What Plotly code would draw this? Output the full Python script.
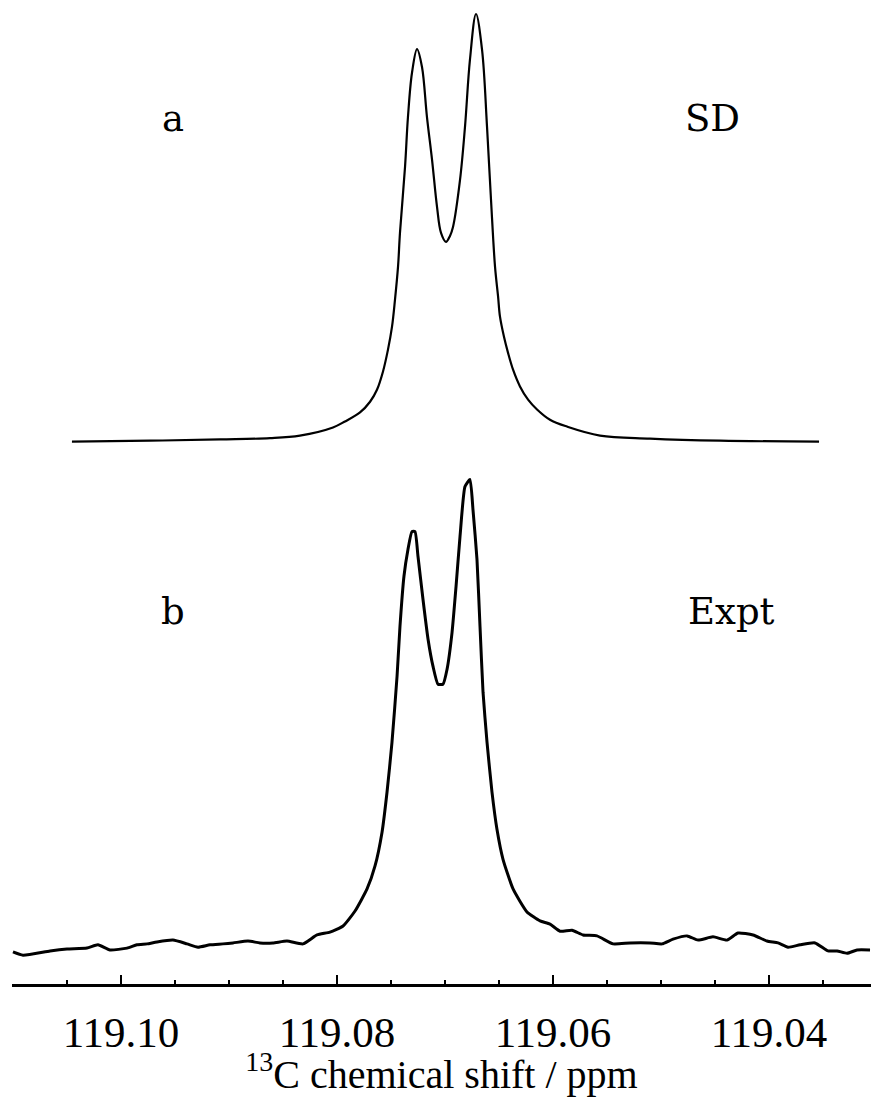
import plotly.graph_objects as go

# --- Simulated spectrum (SD): chemical shift (ppm) and normalised intensity ---
sd_ppm = [119.10454, 119.09731, 119.09083, 119.08620, 119.08343, 119.08037,
          119.07926, 119.07787, 119.07694, 119.07630, 119.07574, 119.07528,
          119.07491, 119.07463, 119.07435, 119.07417, 119.07370, 119.07343,
          119.07306, 119.07259, 119.07213, 119.07167, 119.07120, 119.07074,
          119.07037, 119.06991, 119.06954, 119.06926, 119.06861, 119.06815,
          119.06769, 119.06713, 119.06657, 119.06611, 119.06574, 119.06537,
          119.06509, 119.06491, 119.06454, 119.06417, 119.06370, 119.06306,
          119.06231, 119.06148, 119.06028, 119.05870, 119.05565, 119.05102,
          119.04454, 119.03537]
sd_int = [0.000, 0.002, 0.005, 0.008, 0.014, 0.033,
          0.047, 0.068, 0.093, 0.121, 0.164, 0.215,
          0.268, 0.332, 0.409, 0.488, 0.643, 0.759,
          0.862, 0.918, 0.876, 0.759, 0.659, 0.549,
          0.488, 0.467, 0.481, 0.502, 0.612, 0.736,
          0.893, 1.000, 0.916, 0.736, 0.565, 0.409,
          0.340, 0.292, 0.245, 0.208, 0.168, 0.129,
          0.098, 0.075, 0.051, 0.035, 0.014, 0.007,
          0.002, 0.000]

# --- Experimental spectrum (Expt) ---
ex_ppm = [119.11000, 119.10907, 119.10657, 119.10500, 119.10315, 119.10213,
          119.10102, 119.09944, 119.09852, 119.09759, 119.09667, 119.09519,
          119.09389, 119.09287, 119.09176, 119.09056, 119.08963, 119.08824,
          119.08713, 119.08593, 119.08463, 119.08315, 119.08185, 119.08065,
          119.07944, 119.07833, 119.07722, 119.07648, 119.07583, 119.07537,
          119.07491, 119.07444, 119.07417, 119.07380, 119.07343, 119.07306,
          119.07278, 119.07250, 119.07204, 119.07157, 119.07111, 119.07065,
          119.07019, 119.06981, 119.06935, 119.06898, 119.06861, 119.06815,
          119.06769, 119.06741, 119.06704, 119.06676, 119.06648, 119.06611,
          119.06565, 119.06519, 119.06463, 119.06370, 119.06241, 119.06120,
          119.06028, 119.05935, 119.05824, 119.05722, 119.05593, 119.05444,
          119.05287, 119.05102, 119.04991, 119.04889, 119.04759, 119.04657,
          119.04519, 119.04389, 119.04287, 119.04148, 119.04019, 119.03917,
          119.03824, 119.03713, 119.03574, 119.03454, 119.03370, 119.03278,
          119.03185, 119.03065]
ex_int = [-0.006, -0.013, -0.004, 0.000, 0.002, 0.009,
          -0.002, 0.002, 0.009, 0.011, 0.015, 0.019,
          0.011, 0.004, 0.009, 0.011, 0.013, 0.017,
          0.013, 0.013, 0.017, 0.011, 0.030, 0.036,
          0.049, 0.081, 0.128, 0.177, 0.249, 0.334,
          0.440, 0.581, 0.687, 0.794, 0.851, 0.889,
          0.889, 0.836, 0.745, 0.660, 0.602, 0.564,
          0.564, 0.596, 0.674, 0.772, 0.879, 0.985,
          1.000, 0.936, 0.830, 0.687, 0.547, 0.440,
          0.334, 0.255, 0.191, 0.128, 0.079, 0.060,
          0.053, 0.038, 0.040, 0.030, 0.028, 0.011,
          0.013, 0.013, 0.011, 0.021, 0.028, 0.019,
          0.026, 0.019, 0.034, 0.030, 0.017, 0.013,
          0.004, 0.009, 0.013, -0.004, -0.004, -0.009,
          -0.002, -0.002]

tick_vals = [119.10, 119.08, 119.06, 119.04]
tick_text = ["119.10", "119.08", "119.06", "119.04"]

SERIF = "Liberation Serif, Times New Roman, serif"
LABEL_FONT = "DejaVu Serif, serif"

fig = go.Figure()
fig.add_trace(go.Scatter(x=sd_ppm, y=sd_int, mode="lines", yaxis="y2",
                         line=dict(color="black", width=2.2, shape="spline", smoothing=1.0),
                         showlegend=False, hoverinfo="skip"))
fig.add_trace(go.Scatter(x=ex_ppm, y=ex_int, mode="lines", yaxis="y",
                         line=dict(color="black", width=3, shape="spline", smoothing=0.5),
                         showlegend=False, hoverinfo="skip"))

fig.update_layout(
    width=871, height=1097,
    margin=dict(l=12, r=0, t=0, b=113),
    paper_bgcolor="white", plot_bgcolor="white",
    xaxis=dict(
        range=[119.11009, 119.03056],
        tickvals=tick_vals, ticktext=tick_text,
        ticks="inside", ticklen=9, tickwidth=2, tickcolor="black",
        minor=dict(dtick=0.005, tick0=119.0, ticks="inside", ticklen=4,
                   tickwidth=2, tickcolor="black", showgrid=False),
        showline=True, linecolor="black", linewidth=3,
        showgrid=False, zeroline=False,
        ticklabelstandoff=8,
        tickfont=dict(family=SERIF, size=43, color="black"),
        title=dict(text="<sup>13</sup>C chemical shift / ppm",
                   font=dict(family=SERIF, size=40, color="black"), standoff=2),
    ),
    yaxis=dict(range=[-0.07447, 2.0213], visible=False, fixedrange=True),
    yaxis2=dict(range=[-1.2687, 1.0327], visible=False, overlaying="y",
                fixedrange=True),
    showlegend=False,
)

labels = [("a", 119.09519, 0.880), ("SD", 119.04519, 0.880),
          ("b", 119.09519, 0.379), ("Expt", 119.04352, 0.379)]
for txt, xv, yv in labels:
    fig.add_annotation(text=txt, x=xv, y=yv, xref="x", yref="paper",
                       showarrow=False, xanchor="center", yanchor="middle",
                       font=dict(family=LABEL_FONT, size=37, color="black"))

fig.write_html("out.html")
